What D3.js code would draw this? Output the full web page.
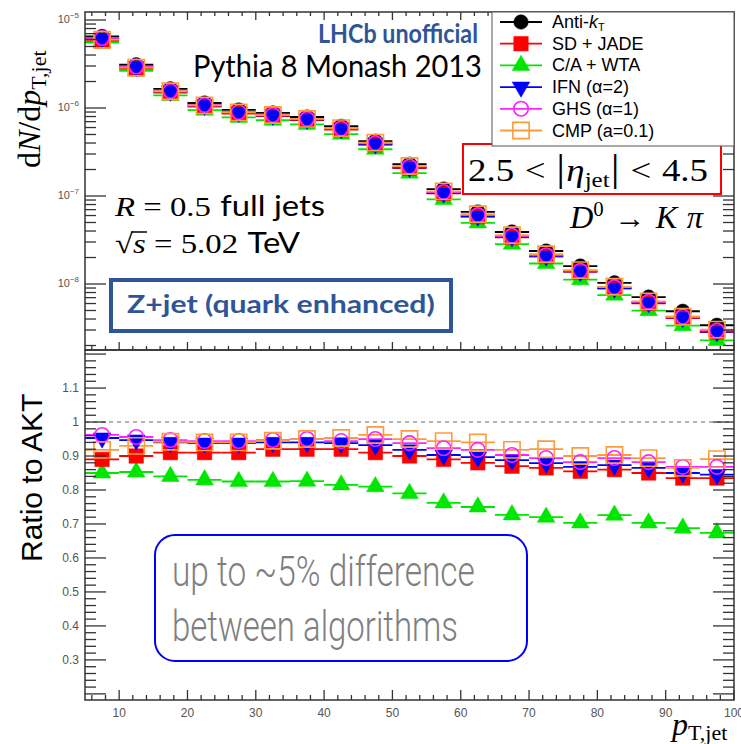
<!DOCTYPE html>
<html><head><meta charset="utf-8">
<script src="https://cdn.jsdelivr.net/npm/d3@7"></script>
<style>body{margin:0;background:#fff}svg{display:block}</style>
</head><body><svg id="c" width="741" height="744"></svg>
<script>
// ---------------- data ----------------
const ptBins = [7.5,12.5,17.5,22.5,27.5,32.5,37.5,42.5,47.5,52.5,57.5,62.5,67.5,72.5,77.5,82.5,87.5,92.5,97.5];
const binHalfWidth = 2.5;
const antiKt = [6.5e-6,3.1e-6,1.65e-6,1.14e-6,9.5e-7,8.8e-7,7.9e-7,6.2e-7,4.2e-7,2.3e-7,1.2e-7,6.6e-8,3.9e-8,2.37e-8,1.6e-8,1.03e-8,7.1e-9,4.9e-9,3.4e-9];
const sdJade = [5.79e-6,2.79e-6,1.50e-6,1.04e-6,8.65e-7,8.10e-7,7.27e-7,5.70e-7,3.82e-7,2.07e-7,1.07e-7,5.81e-8,3.39e-8,2.05e-8,1.37e-8,8.86e-9,6.04e-9,4.09e-9,2.84e-9];
const caWta = [5.53e-6,2.64e-6,1.39e-6,9.46e-7,7.84e-7,7.26e-7,6.53e-7,5.05e-7,3.40e-7,1.82e-7,9.14e-8,4.95e-8,2.84e-8,1.71e-8,1.12e-8,7.48e-9,4.99e-9,3.37e-9,2.29e-9];
const ifn = [6.19e-6,2.94e-6,1.55e-6,1.07e-6,8.91e-7,8.27e-7,7.43e-7,5.82e-7,3.91e-7,2.11e-7,1.08e-7,5.92e-8,3.46e-8,2.08e-8,1.39e-8,8.99e-9,6.14e-9,4.17e-9,2.87e-9];
const ghs = [6.25e-6,2.96e-6,1.56e-6,1.08e-6,8.97e-7,8.33e-7,7.51e-7,5.85e-7,3.99e-7,2.16e-7,1.11e-7,6.06e-8,3.52e-8,2.12e-8,1.41e-8,9.21e-9,6.26e-9,4.25e-9,2.95e-9];
const cmp = [5.97e-6,2.88e-6,1.55e-6,1.07e-6,8.93e-7,8.32e-7,7.51e-7,5.91e-7,4.04e-7,2.19e-7,1.13e-7,6.20e-8,3.58e-8,2.18e-8,1.44e-8,9.30e-9,6.35e-9,4.24e-9,3.03e-9];
const ratioSdJade = [0.89,0.90,0.91,0.91,0.91,0.92,0.92,0.92,0.91,0.90,0.89,0.88,0.87,0.865,0.855,0.86,0.85,0.835,0.835];
const ratioCaWta = [0.85,0.853,0.84,0.83,0.825,0.825,0.826,0.815,0.81,0.79,0.762,0.75,0.727,0.72,0.703,0.726,0.703,0.688,0.674];
const ratioIfn = [0.953,0.947,0.94,0.938,0.938,0.94,0.94,0.938,0.932,0.918,0.903,0.897,0.888,0.879,0.868,0.873,0.865,0.85,0.845];
const ratioGhs = [0.962,0.956,0.947,0.944,0.944,0.947,0.95,0.944,0.95,0.938,0.923,0.918,0.903,0.894,0.882,0.894,0.882,0.868,0.868];
const ratioCmp = [0.918,0.93,0.942,0.94,0.94,0.945,0.95,0.953,0.962,0.95,0.944,0.94,0.918,0.92,0.9,0.903,0.894,0.865,0.891];
const seriesNames = ["Anti-kT","SD + JADE","C/A + WTA","IFN (α=2)","GHS (α=1)","CMP (a=0.1)"];
const xTickValues = [10,20,30,40,50,60,70,80,90,100];
const ratioTickValues = [0.3,0.4,0.5,0.6,0.7,0.8,0.9,1,1.1];
const ratioTickLabels = ["0.3","0.4","0.5","0.6","0.7","0.8","0.9","1","1.1"];
const logTickExponents = [-5,-6,-7,-8];

// ---------------- layout ----------------
const X0=85, X1=734, TY0=12, TY1=350, BY0=350, BY1=700;
const svg = d3.select("#c");
const x = d3.scaleLinear().domain([5,100]).range([X0,X1]);
const yTop = d3.scaleLog().domain([Math.pow(10,-8.75), Math.pow(10,-4.909)]).range([TY1,TY0]);
const yBot = d3.scaleLinear().domain([0.182,1.212]).range([BY1,BY0]);

const GREEN="#00e600", ORANGE="#ff9a3c", MAG="#ff22ff", BLUE="#0000ff", RED="#ff0000";
const series = [
  {name:seriesNames[0], color:"#000", type:"circle", fill:true, top:antiKt, ratio:null},
  {name:seriesNames[2], color:GREEN, type:"triUp", fill:true, top:caWta, ratio:ratioCaWta},
  {name:seriesNames[1], color:RED, type:"square", fill:true, top:sdJade, ratio:ratioSdJade},
  {name:seriesNames[3], color:BLUE, type:"triDown", fill:true, top:ifn, ratio:ratioIfn},
  {name:seriesNames[4], color:MAG, type:"circle", fill:false, top:ghs, ratio:ratioGhs},
  {name:seriesNames[5], color:ORANGE, type:"square", fill:false, top:cmp, ratio:ratioCmp},
];
function markerPath(type){
  if(type==="circle") return d3.symbol(d3.symbolCircle,165)();
  if(type==="square") return d3.symbol(d3.symbolSquare,210)();
  return d3.symbol(d3.symbolTriangle,135)();
}
function drawMarker(g, s, cx, cy){
  let size = s.type==="square" && !s.fill ? 264 : null;
  const d = size ? d3.symbol(d3.symbolSquare,size)() : markerPath(s.type);
  g.append("path").attr("d",d)
   .attr("transform",`translate(${cx},${cy})${s.type==="triDown"?" rotate(180)":""}`)
   .attr("fill", s.fill ? s.color : "none")
   .attr("stroke", s.color).attr("stroke-width", s.fill?0.5:1.6);
}

svg.append("rect").attr("width",741).attr("height",744).attr("fill","#fff");

// ---------------- top panel ----------------
const gTop = svg.append("g");
series.forEach(s=>{
  gTop.selectAll(null).data(ptBins).enter().append("line")
    .attr("x1",d=>x(d-binHalfWidth)).attr("x2",d=>x(d+binHalfWidth))
    .attr("y1",(d,i)=>yTop(s.top[i])).attr("y2",(d,i)=>yTop(s.top[i]))
    .attr("stroke",s.color).attr("stroke-width",1.8);
});
series.forEach(s=>{
  ptBins.forEach((d,i)=>drawMarker(gTop,s,x(d),yTop(s.top[i])));
});

// ---------------- bottom panel ----------------
const gBot = svg.append("g");
gBot.append("line").attr("x1",X0).attr("x2",X1).attr("y1",yBot(1)).attr("y2",yBot(1))
  .attr("stroke","#999").attr("stroke-width",1.5).attr("stroke-dasharray","4,4");
const ratioSeries = series.filter(s=>s.ratio);
ratioSeries.forEach(s=>{
  gBot.selectAll(null).data(ptBins).enter().append("line")
    .attr("x1",d=>x(d-binHalfWidth)).attr("x2",d=>x(d+binHalfWidth))
    .attr("y1",(d,i)=>yBot(s.ratio[i])).attr("y2",(d,i)=>yBot(s.ratio[i]))
    .attr("stroke",s.color).attr("stroke-width",1.8);
});
ratioSeries.forEach(s=>{
  ptBins.forEach((d,i)=>drawMarker(gBot,s,x(d),yBot(s.ratio[i])));
});

// ---------------- frames and ticks ----------------
const axc="#333";
function frame(y0,y1){
  svg.append("rect").attr("x",X0).attr("y",y0).attr("width",X1-X0).attr("height",y1-y0)
    .attr("fill","none").attr("stroke",axc).attr("stroke-width",1.5);
}
frame(TY0,TY1); frame(BY0,BY1);
const tk = svg.append("g").attr("stroke",axc).attr("stroke-width",1.3);
const xMinor = d3.range(6,101,2);
function xticks(yEdge, dir, lenMaj, lenMin){
  xMinor.forEach(v=>{
    const maj = v%10===0;
    const l = maj?lenMaj:lenMin;
    tk.append("line").attr("x1",x(v)).attr("x2",x(v)).attr("y1",yEdge).attr("y2",yEdge+dir*l);
  });
}
xticks(TY0,1,8,4); xticks(TY1,-1,8,4); xticks(BY1,-1,10,5);
const logMinor=[];
for(let e=-9;e<=-5;e++) for(let k=1;k<=9;k++){const v=k*Math.pow(10,e); if(v>=yTop.domain()[0]&&v<=yTop.domain()[1]) logMinor.push({v,maj:k===1});}
logMinor.forEach(t=>{
  const l=t.maj?21:11, yy=yTop(t.v);
  tk.append("line").attr("x1",X0).attr("x2",X0+l).attr("y1",yy).attr("y2",yy);
  tk.append("line").attr("x1",X1).attr("x2",X1-l).attr("y1",yy).attr("y2",yy);
});
d3.range(0.2,1.2001,0.02).forEach(v=>{
  const maj = Math.abs(v*10-Math.round(v*10))<1e-6;
  const l=maj?21:11, yy=yBot(v);
  if(yy<BY0||yy>BY1) return;
  tk.append("line").attr("x1",X0).attr("x2",X0+l).attr("y1",yy).attr("y2",yy);
  tk.append("line").attr("x1",X1).attr("x2",X1-l).attr("y1",yy).attr("y2",yy);
});

const lab = svg.append("g").attr("font-family","Liberation Sans, Arial, sans-serif").attr("fill","#555");
logTickExponents.forEach(e=>{
  const t = lab.append("text").attr("x",79).attr("y",yTop(Math.pow(10,e))+3).attr("text-anchor","end").attr("font-size",11);
  t.append("tspan").text("10");
  t.append("tspan").attr("dy",-5).attr("font-size",8).text("\u2212"+Math.abs(e));
});
ratioTickValues.forEach((v,i)=>{
  lab.append("text").attr("x",79).attr("y",yBot(v)+4).attr("text-anchor","end").attr("font-size",12).text(ratioTickLabels[i]);
});
xTickValues.forEach(v=>{
  lab.append("text").attr("x",x(v)).attr("y",717).attr("text-anchor","middle").attr("font-size",12).text(v);
});

// ---------------- text helper ----------------
function runs(parent, x0, y0, pieces, opts={}){
  const g = parent.append("g");
  let cx = 0;
  const els=[];
  pieces.forEach(p=>{
    const t = g.append("text").attr("x",cx).attr("y",p.dy||0)
      .attr("font-family",p.font||"Liberation Serif").attr("font-size",p.size)
      .attr("font-style",p.italic?"italic":"normal").attr("font-weight",p.bold?"bold":(p.weight||"normal"))
      .attr("fill",p.fill||"#000").text(p.t);
    const w = t.node().getComputedTextLength();
    els.push({el:t,x:cx,w});
    cx += w + (p.gap||0);
  });
  let sx = 1;
  if(opts.width) sx = opts.width/cx;
  let tx = x0;
  if(opts.anchor==="end") tx = x0 - cx*sx;
  if(opts.anchor==="middle") tx = x0 - cx*sx/2;
  g.attr("transform",`translate(${tx},${y0})${opts.rotate?` rotate(${opts.rotate})`:""} scale(${sx},1)`);
  return {g,els,sx,tx,total:cx};
}

// ---------------- annotations ----------------
const ann = svg.append("g");
runs(ann, 318, 43, [{t:"LHCb unofficial", font:"Lato", size:27, bold:true, fill:"#2f5597"}], {width:160});
runs(ann, 193, 77, [{t:"Pythia 8 Monash 2013", font:"Lato", size:30}], {width:289});
runs(ann, 115, 216, [
  {t:"R", size:28, italic:true, gap:7},
  {t:"=", size:28, gap:7},
  {t:"0.5", size:28, gap:8},
  {t:"full jets", font:"Lato", size:28}
], {width:210});
const sq = runs(ann, 115, 253, [
  {t:"\u221A", size:28},
  {t:"s", size:28, italic:true, gap:7},
  {t:"=", size:28, gap:7},
  {t:"5.02", size:28, gap:8},
  {t:"TeV", font:"Lato", size:28}
], {width:185});
{
  const e0=sq.els[0], e1=sq.els[1];
  sq.g.append("line").attr("x1",e0.x+e0.w-1).attr("x2",e1.x+e1.w+1).attr("y1",-21).attr("y2",-21)
    .attr("stroke","#000").attr("stroke-width",1.5);
}
ann.append("rect").attr("x",111).attr("y",280).attr("width",340).attr("height",51)
  .attr("fill","#fff").attr("stroke","#2f5597").attr("stroke-width",4);
runs(ann, 281, 313, [{t:"Z+jet (quark enhanced)", font:"Lato", size:24, bold:true, fill:"#2f5597"}], {width:308, anchor:"middle"});

// legend
const leg = svg.append("g");
leg.append("rect").attr("x",492).attr("y",TY0).attr("width",X1-492).attr("height",134)
  .attr("fill","#fff").attr("stroke","#555").attr("stroke-width",1);
const legSeries = [series[0],series[2],series[1],series[3],series[4],series[5]];
legSeries.forEach((s,i)=>{
  const yy = 22 + i*21.7;
  leg.append("line").attr("x1",500).attr("x2",542).attr("y1",yy).attr("y2",yy).attr("stroke",s.color).attr("stroke-width",1.8);
  drawMarker(leg,s,521,yy);
  const t = leg.append("text").attr("x",552).attr("y",yy+6).attr("font-family","Liberation Sans, Arial, sans-serif").attr("font-size",18);
  if(i===0){
    t.append("tspan").text("Anti-");
    t.append("tspan").attr("font-style","italic").text("k");
    t.append("tspan").attr("dy",3).attr("font-size",11).text("T");
  } else t.text(s.name);
});

// eta box
ann.append("rect").attr("x",463).attr("y",144).attr("width",258).attr("height",50)
  .attr("fill","#fff").attr("stroke","#ff0000").attr("stroke-width",2);
runs(ann, 468, 181, [
  {t:"2.5", size:31, gap:9},
  {t:"<", size:31, gap:9},
  {t:"|", size:37, gap:1},
  {t:"\u03B7", size:31, italic:true},
  {t:"jet", size:21, dy:6, gap:1},
  {t:"|", size:37, gap:9},
  {t:"<", size:31, gap:9},
  {t:"4.5", size:31}
], {width:240});
runs(ann, 703, 228, [
  {t:"D", size:31, italic:true},
  {t:"0", size:20, dy:-12, gap:10},
  {t:"\u2192", size:30, gap:10},
  {t:"K", size:31, italic:true, gap:9},
  {t:"\u03C0", size:31, italic:true}
], {anchor:"end", width:133});

// summary box
ann.append("rect").attr("x",155).attr("y",535).attr("width",372).attr("height",126).attr("rx",20)
  .attr("fill","#fff").attr("stroke","#0000ff").attr("stroke-width",2);
runs(ann, 172, 586, [{t:"up to ~5% difference", font:"Roboto", size:43, weight:300, fill:"#7f7f7f"}], {width:303});
runs(ann, 172, 641, [{t:"between algorithms", font:"Roboto", size:43, weight:300, fill:"#7f7f7f"}], {width:286});

// axis titles
runs(svg, 40, 168, [
  {t:"d", size:32}, {t:"N", size:32, italic:true}, {t:"/d", size:32}, {t:"p", size:32, italic:true},
  {t:"T,jet", size:22, dy:6}
], {rotate:-90});
svg.append("text").attr("transform","translate(42,562) rotate(-90)")
  .attr("font-family","Liberation Sans, Arial, sans-serif").attr("font-size",30).attr("fill","#000").text("Ratio to AKT");
runs(svg, 672, 735, [{t:"p", size:32, italic:true}, {t:"T,jet", size:22, dy:5}]);
</script></body></html>
